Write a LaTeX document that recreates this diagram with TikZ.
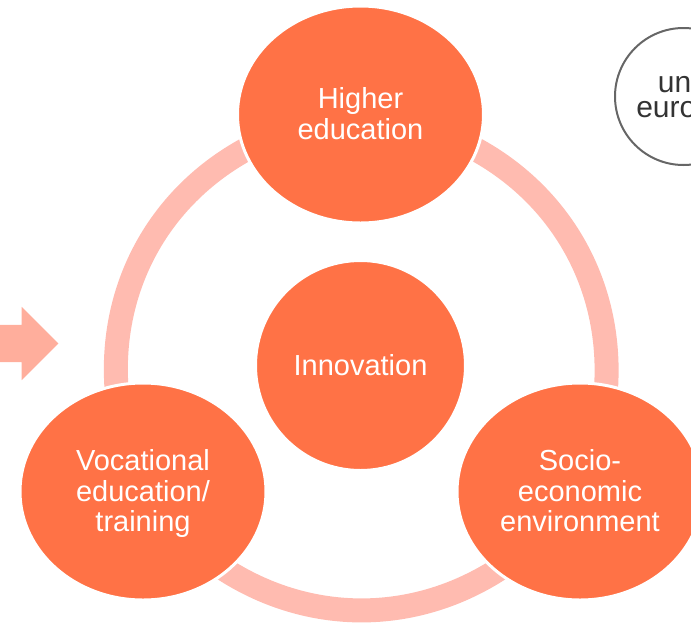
\documentclass[tikz,border=0pt]{standalone}
\usepackage{fontspec}
\setmainfont{Liberation Sans}
\usepackage{xcolor}
\usepackage{tikz}
\usetikzlibrary{positioning}
\usetikzlibrary{shapes.geometric,shapes.arrows,backgrounds}
\definecolor{orangefill}{HTML}{FF7246}
\definecolor{ringfill}{HTML}{FFBBB0}
\definecolor{arrowfill}{HTML}{FFAE9C}

\begin{document}
\begin{tikzpicture}[x=1pt, y=1pt, on grid,
		main/.style = {draw=white, line width=3pt, fill=orangefill, text=white, ellipse, inner sep=0pt, align=center, text depth=2pt, minimum width=246pt, minimum height=217pt, font=\fontsize{29}{30.2}\selectfont},
		ring/.style = {draw=ringfill, line width=24pt, bend left=54, looseness=1.15}]
		\useasboundingbox (0,0) rectangle (691,-622);

		\node[main, minimum width=210pt, minimum height=210pt] (hub) at (360.5,-365.5) {Innovation};
		\node[main] (top) [above = 251pt of hub] {Higher\\education};
		\node[main] (left) [below left = 126pt and 217.5pt of hub] {Vocational\\education/\\training};
		\node[main] (right) [below right = 126pt and 219.5pt of hub] {Socio-\\economic\\environment};

		\begin{pgfonlayer}{background}
			\draw[ring] (top.center) to (right.center);
			\draw[ring] (right.center) to (left.center);
			\draw[ring] (left.center) to (top.center);
		\end{pgfonlayer}

		\node[single arrow, fill=arrowfill, inner xsep=0pt, inner ysep=18.5pt, minimum height=98pt, single arrow head extend=18pt, single arrow head indent=0pt] (input) at (0,-343.5) {};

		\node[draw=black!60, line width=2pt, circle, inner sep=0pt, minimum size=137pt] (logo) at (683.5,-96.5) {};
		\node[align=center, inner sep=0pt, text=black!80, font=\fontsize{30}{25}\selectfont] (logotext) at (683,-100.5) {una\\europa};
	\end{tikzpicture}
\end{document}
